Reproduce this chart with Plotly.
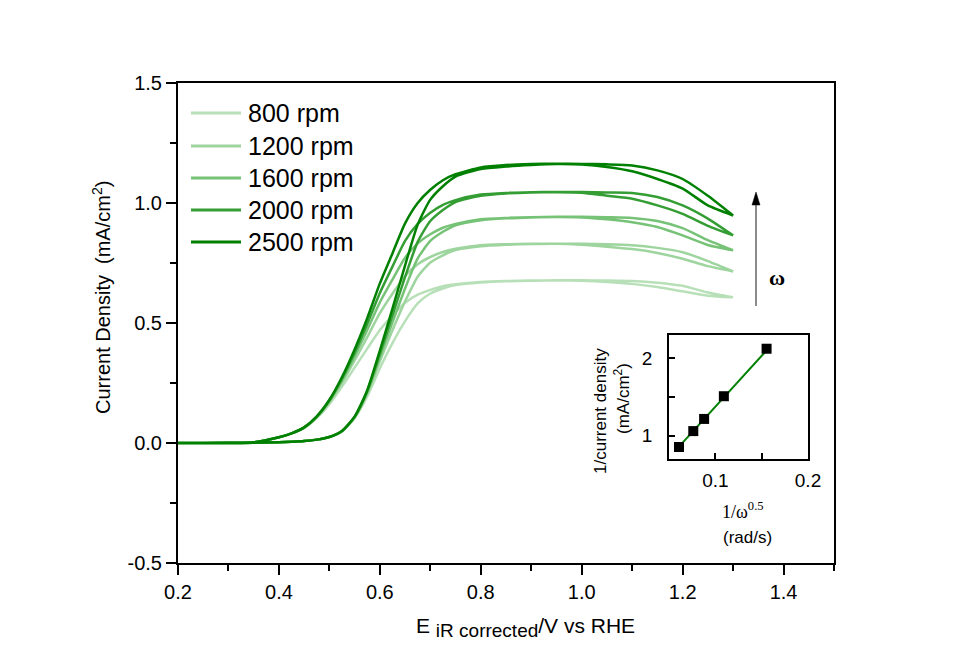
import plotly.graph_objects as go

# ---------------- data ----------------
E_up = [0.20, 0.30, 0.35, 0.40, 0.425, 0.45, 0.475, 0.50, 0.525, 0.55, 0.575, 0.60,
        0.625, 0.65, 0.675, 0.70, 0.725, 0.75, 0.80, 0.85, 0.90, 0.95, 1.00, 1.05,
        1.10, 1.15, 1.20, 1.25, 1.30]

labels = ["800 rpm", "1200 rpm", "1600 rpm", "2000 rpm", "2500 rpm"]
colors = ["rgb(184,224,184)", "rgb(158,212,158)", "rgb(118,194,118)",
          "rgb(52,158,52)", "rgb(0,128,0)"]

# branch A: earlier rise, upper branch at the high-potential end
j800_a = [0.0, 0.001, 0.003, 0.024, 0.040, 0.062, 0.104, 0.162, 0.235, 0.314, 0.393, 0.471,
          0.531, 0.584, 0.618, 0.638, 0.653, 0.661, 0.671, 0.675, 0.677, 0.678, 0.678, 0.677,
          0.675, 0.668, 0.655, 0.627, 0.607]
j1200_a = [0.0, 0.001, 0.003, 0.024, 0.040, 0.064, 0.107, 0.170, 0.251, 0.344, 0.441, 0.541,
           0.622, 0.696, 0.745, 0.775, 0.796, 0.809, 0.824, 0.828, 0.830, 0.830, 0.830, 0.828,
           0.824, 0.813, 0.795, 0.758, 0.715]
j1600_a = [0.0, 0.001, 0.003, 0.024, 0.040, 0.064, 0.109, 0.174, 0.261, 0.362, 0.471, 0.586,
           0.681, 0.772, 0.832, 0.870, 0.897, 0.913, 0.932, 0.938, 0.941, 0.943, 0.943, 0.941,
           0.938, 0.925, 0.895, 0.845, 0.803]
j2000_a = [0.0, 0.001, 0.003, 0.024, 0.040, 0.065, 0.110, 0.177, 0.268, 0.376, 0.496, 0.625,
           0.735, 0.842, 0.913, 0.959, 0.992, 1.012, 1.035, 1.042, 1.045, 1.046, 1.046, 1.044,
           1.042, 1.025, 0.990, 0.935, 0.865]
j2500_a = [0.0, 0.001, 0.003, 0.024, 0.040, 0.065, 0.111, 0.180, 0.275, 0.390, 0.520, 0.665,
           0.790, 0.915, 1.000, 1.055, 1.095, 1.120, 1.148, 1.158, 1.162, 1.164, 1.163, 1.161,
           1.156, 1.136, 1.100, 1.030, 0.948]

# branch B: later rise, lower branch at the high-potential end
j800_b = [0.0, 0.000, 0.001, 0.003, 0.005, 0.008, 0.014, 0.025, 0.048, 0.103, 0.194, 0.311,
          0.416, 0.508, 0.582, 0.623, 0.644, 0.658, 0.669, 0.674, 0.676, 0.678, 0.676, 0.671,
          0.663, 0.650, 0.632, 0.614, 0.607]
j1200_b = [0.0, 0.000, 0.001, 0.003, 0.005, 0.008, 0.014, 0.025, 0.049, 0.106, 0.205, 0.340,
           0.470, 0.590, 0.693, 0.752, 0.782, 0.804, 0.820, 0.826, 0.829, 0.830, 0.826, 0.818,
           0.808, 0.792, 0.768, 0.737, 0.715]
j1600_b = [0.0, 0.000, 0.001, 0.003, 0.005, 0.008, 0.014, 0.025, 0.050, 0.108, 0.211, 0.357,
           0.503, 0.644, 0.769, 0.842, 0.880, 0.907, 0.928, 0.936, 0.940, 0.942, 0.940, 0.932,
           0.920, 0.900, 0.865, 0.825, 0.803]
j2000_b = [0.0, 0.000, 0.001, 0.003, 0.005, 0.008, 0.014, 0.025, 0.050, 0.109, 0.216, 0.371,
           0.532, 0.692, 0.838, 0.925, 0.971, 1.004, 1.030, 1.040, 1.044, 1.045, 1.043, 1.030,
           1.018, 0.990, 0.955, 0.905, 0.865]
j2500_b = [0.0, 0.000, 0.001, 0.003, 0.005, 0.008, 0.014, 0.025, 0.050, 0.110, 0.220, 0.385,
           0.560, 0.740, 0.910, 1.014, 1.070, 1.110, 1.142, 1.152, 1.158, 1.162, 1.160, 1.150,
           1.132, 1.100, 1.060, 0.990, 0.948]

branch_a = [j800_a, j1200_a, j1600_a, j2000_a, j2500_a]
branch_b = [j800_b, j1200_b, j1600_b, j2000_b, j2500_b]

# inset: Koutecky-Levich
kl_x = [0.0608, 0.0762, 0.0879, 0.1092, 0.1553]
kl_y = [0.855, 1.060, 1.217, 1.510, 2.123]
fit_x = [0.0608, 0.1553]
fit_y = [0.860, 2.100]

x_ticks = [0.2, 0.4, 0.6, 0.8, 1.0, 1.2, 1.4]
y_ticks = [-0.5, 0.0, 0.5, 1.0, 1.5]

# ---------------- figure ----------------
W, H = 954, 668
ML, MR, MT, MB = 178, 120, 83, 105
PW, PH = W - ML - MR, H - MT - MB


def px_x(p):
    return (p - ML) / PW


def px_y(p):
    return (H - MB - p) / PH


fig = go.Figure()
for lab, col, ja, jb in zip(labels, colors, branch_a, branch_b):
    xs = E_up + E_up[::-1]
    ys = ja + jb[::-1]
    fig.add_trace(go.Scatter(x=xs, y=ys, mode="lines", name=lab, showlegend=False,
                             line=dict(color=col, width=2.5, shape="spline", smoothing=0.6)))

fig.add_trace(go.Scatter(x=fit_x, y=fit_y, mode="lines", showlegend=False,
                         line=dict(color="rgb(0,128,0)", width=2), xaxis="x2", yaxis="y2"))
fig.add_trace(go.Scatter(x=kl_x, y=kl_y, mode="markers", showlegend=False,
                         marker=dict(symbol="square", size=10, color="black"),
                         xaxis="x2", yaxis="y2"))

font_main = "Arial, 'Liberation Sans', sans-serif"
font_serif = "'Times New Roman', 'Liberation Serif', serif"

fig.update_layout(
    width=W, height=H,
    margin=dict(l=ML, r=MR, t=MT, b=MB),
    paper_bgcolor="white", plot_bgcolor="white",
    font=dict(family=font_main, color="black", size=20),
    showlegend=False,
    xaxis=dict(range=[0.2, 1.5], tickvals=x_ticks, ticktext=[f"{v:.1f}" for v in x_ticks],
               showgrid=False, zeroline=False, showline=True, linecolor="black", linewidth=2,
               mirror=True, ticks="outside", ticklen=10, tickwidth=2, tickcolor="black",
               minor=dict(dtick=0.1, tick0=0.2, ticks="outside", ticklen=6, tickwidth=2,
                          tickcolor="black", showgrid=False),
               tickfont=dict(size=20)),
    yaxis=dict(range=[-0.5, 1.5], tickvals=y_ticks, ticktext=[f"{v:.1f}" for v in y_ticks],
               showgrid=False, zeroline=False, showline=True, linecolor="black", linewidth=2,
               mirror=True, ticks="outside", ticklen=10, tickwidth=2, tickcolor="black",
               minor=dict(dtick=0.25, tick0=0, ticks="outside", ticklen=6, tickwidth=2,
                          tickcolor="black", showgrid=False),
               tickfont=dict(size=20)),
    xaxis2=dict(domain=[px_x(669), px_x(808)], anchor="y2", range=[0.05, 0.2],
                tickvals=[0.1, 0.2], ticktext=["0.1", "0.2"],
                showgrid=False, zeroline=False, showline=True, linecolor="black", linewidth=1.5,
                mirror=True, ticks="inside", ticklen=6, tickwidth=1.5, tickcolor="black",
                minor=dict(tickvals=[0.05, 0.15], ticks="inside", ticklen=6, tickwidth=1.5,
                           tickcolor="black", showgrid=False),
                ticklabelstandoff=3, tickfont=dict(size=19)),
    yaxis2=dict(domain=[px_y(459), px_y(335)], anchor="x2", range=[0.7, 2.3],
                tickvals=[1, 2], ticktext=["1", "2"],
                showgrid=False, zeroline=False, showline=True, linecolor="black", linewidth=1.5,
                mirror=True, ticks="inside", ticklen=6, tickwidth=1.5, tickcolor="black",
                minor=dict(tickvals=[1.5], ticks="inside", ticklen=6, tickwidth=1.5,
                           tickcolor="black", showgrid=False),
                ticklabelstandoff=11, tickfont=dict(size=19)),
)

shapes = []
ann = []
# legend (drawn inside the plot, top-left)
leg_rows = [113, 146, 178, 210, 242]
for lab, col, row in zip(labels, colors, leg_rows):
    shapes.append(dict(type="line", xref="paper", yref="paper",
                       x0=px_x(191), x1=px_x(241), y0=px_y(row), y1=px_y(row),
                       line=dict(color=col, width=3)))
    ann.append(dict(xref="paper", yref="paper", x=px_x(246), y=px_y(row), text=lab,
                    showarrow=False, xanchor="left", yanchor="middle", font=dict(size=25)))

# omega arrow: grey shaft, black head (shapes in paper px)
ax_px, tip_py, tail_py = 756, 192, 306
shapes.append(dict(type="line", xref="paper", yref="paper",
                   x0=px_x(ax_px), x1=px_x(ax_px), y0=px_y(tail_py), y1=px_y(tip_py + 8),
                   line=dict(color="#6e6e6e", width=1.6)))
shapes.append(dict(type="path", xref="paper", yref="paper",
                   path=(f"M {px_x(ax_px)},{px_y(tip_py)} L {px_x(ax_px - 4)},{px_y(tip_py + 13)} "
                         f"L {px_x(ax_px + 4)},{px_y(tip_py + 13)} Z"),
                   fillcolor="black", line=dict(color="black", width=0.5)))

# main axis titles
ann.append(dict(xref="paper", yref="paper", x=px_x(101), y=px_y(298),
                text="Current Density  (mA/cm<sup>2</sup>)",
                textangle=-90, showarrow=False, xanchor="center", yanchor="middle",
                font=dict(size=20)))
ann.append(dict(xref="paper", yref="paper", x=px_x(414), y=px_y(627),
                text="E <sub><span style='font-size:19px'>iR corrected</span></sub>/V vs RHE",
                showarrow=False, xanchor="left", yanchor="middle", font=dict(size=21)))
# inset titles
ann.append(dict(xref="paper", yref="paper", x=px_x(600), y=px_y(411), text="1/current density",
                textangle=-90, showarrow=False, xanchor="center", yanchor="middle",
                font=dict(size=17)))
ann.append(dict(xref="paper", yref="paper", x=px_x(622), y=px_y(399), text="(mA/cm<sup>2</sup>)",
                textangle=-90, showarrow=False, xanchor="center", yanchor="middle",
                font=dict(size=17)))
ann.append(dict(xref="paper", yref="paper", x=px_x(743), y=px_y(510), text="1/ω<sup>0.5</sup>",
                showarrow=False, xanchor="center", yanchor="middle",
                font=dict(size=18, family=font_serif)))
ann.append(dict(xref="paper", yref="paper", x=px_x(747), y=px_y(537), text="(rad/s)",
                showarrow=False, xanchor="center", yanchor="middle", font=dict(size=17)))
ann.append(dict(xref="paper", yref="paper", x=px_x(777), y=px_y(277), text="<b>ω</b>",
                showarrow=False, xanchor="center", yanchor="middle",
                font=dict(size=22, family=font_serif)))
fig.update_layout(annotations=ann, shapes=shapes)

fig.write_html("out.html")
